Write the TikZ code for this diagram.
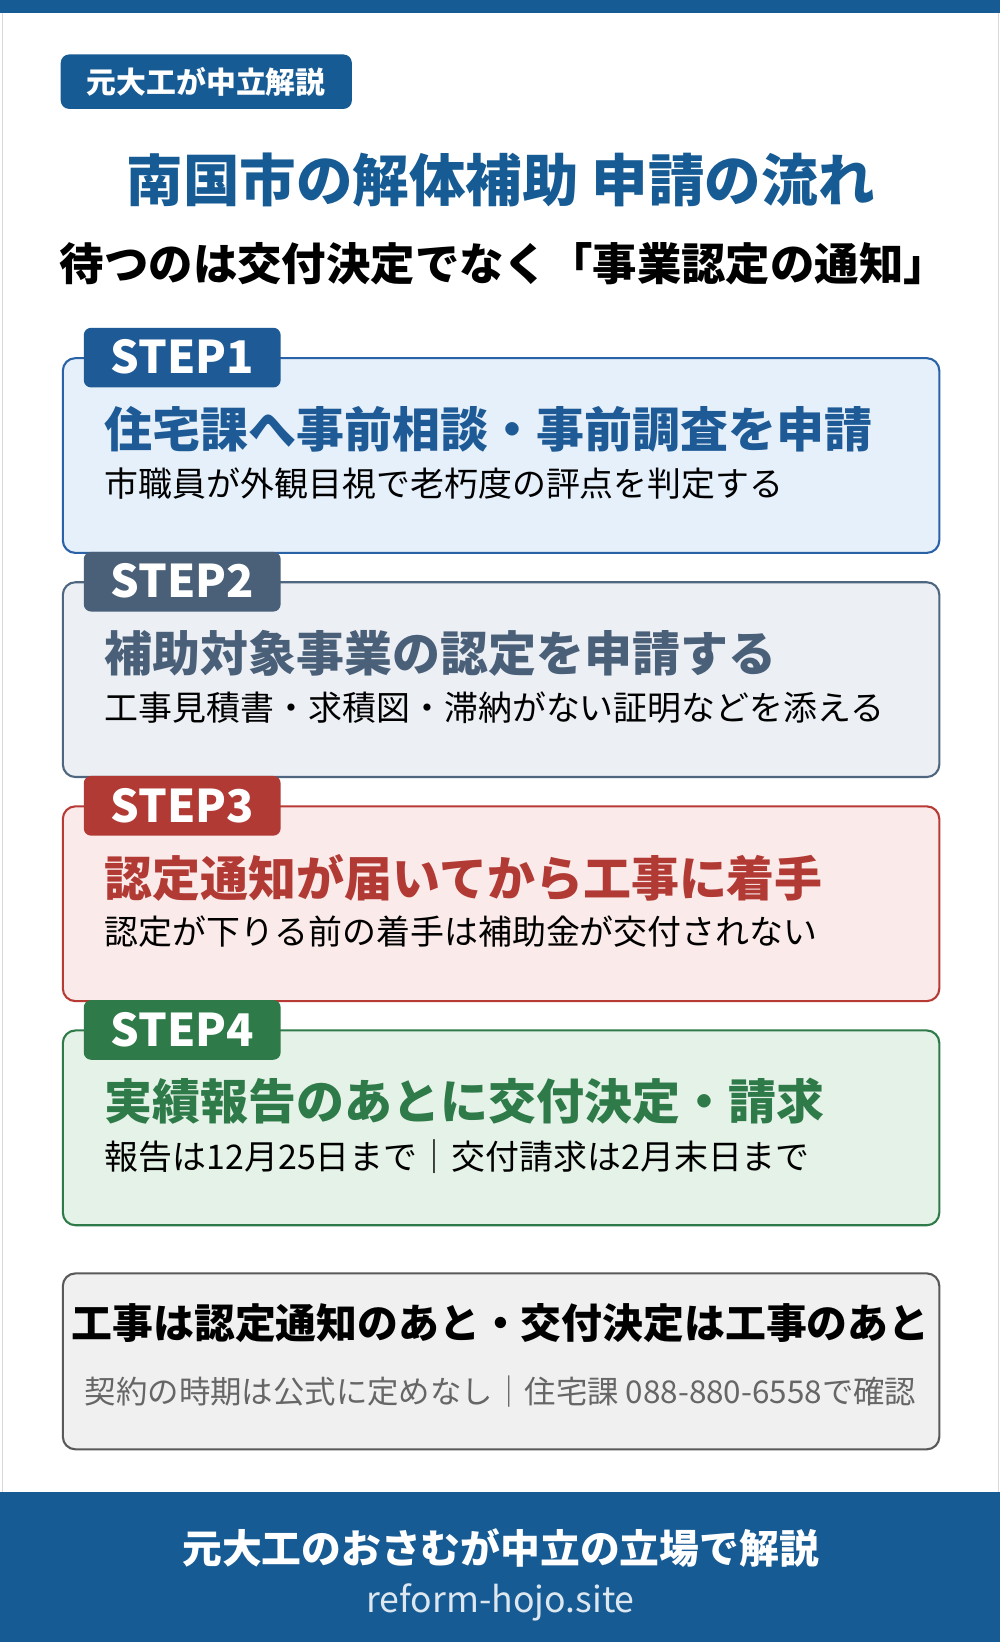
\documentclass[tikz,border=0pt]{standalone}
\usepackage{fontspec}
\setmainfont{Noto Sans CJK JP}
\usepackage{tikz}
\definecolor{navy}{HTML}{175B94}
\definecolor{sOneLine}{HTML}{2A62A8}\definecolor{sOneFill}{HTML}{E6F0FA}\definecolor{sOneTab}{HTML}{1E5A96}
\definecolor{sTwoLine}{HTML}{4F6680}\definecolor{sTwoFill}{HTML}{ECEFF4}\definecolor{sTwoTab}{HTML}{4A5F78}
\definecolor{sThrLine}{HTML}{B83A35}\definecolor{sThrFill}{HTML}{FBEAEA}\definecolor{sThrTab}{HTML}{B23A34}
\definecolor{sFouLine}{HTML}{2E7A48}\definecolor{sFouFill}{HTML}{E5F2E8}\definecolor{sFouTab}{HTML}{2E7A48}
\begin{document}
\begin{tikzpicture}[x=1pt,y=1pt,yscale=-1,xscale=1,
  box/.style={rounded corners=12pt,line width=2pt},
  tab/.style={rounded corners=7pt},
  tabtext/.style={anchor=center,inner sep=0pt,text=white,font=\fontsize{43}{46}\selectfont\bfseries},
  head/.style={anchor=west,inner sep=0pt,font=\fontsize{45.8}{50}\selectfont\bfseries},
  sub/.style={anchor=west,inner sep=0pt,font=\fontsize{32.4}{36}\selectfont}]
\useasboundingbox (0,0) rectangle (955,1568);
\fill[white] (0,0) rectangle (955,1568);
%Shape: top bar
\fill[navy] (0,0) rectangle (955,12);
\draw[gray!30] (2,12) -- (2,1425) (953,12) -- (953,1425);
%Shape: badge
\fill[navy,rounded corners=8pt] (58,52) rectangle (336,104);
\node (badge) at (197,78) [inner sep=0pt,text=white,font=\fontsize{28.5}{31}\selectfont\bfseries] {元大工が中立解説};
% Text Node
\node (title) at (478,172) [inner sep=0pt,text=navy,font=\fontsize{54}{58}\selectfont\bfseries] {南国市の解体補助 申請の流れ};
\node (subtitle) at (57,252) [anchor=west,inner sep=0pt,font=\fontsize{42.4}{46}\selectfont\bfseries] {待つのは交付決定でなく「事業認定の通知」};
%Steps
\foreach \n/\y/\c/\h/\s in {1/342/sOne/住宅課へ事前相談・事前調査を申請/市職員が外観目視で老朽度の評点を判定する,
  2/556/sTwo/補助対象事業の認定を申請する/工事見積書・求積図・滞納がない証明などを添える,
  3/770/sThr/認定通知が届いてから工事に着手/認定が下りる前の着手は補助金が交付されない,
  4/984/sFou/実績報告のあとに交付決定・請求/報告は12月25日まで｜交付請求は2月末日まで}{
  \draw[box,draw=\c Line,fill=\c Fill] (60,\y) rectangle (897,\y+186);
  \fill[tab,\c Tab] (80,\y-29) rectangle (268,\y+28);
  \node (tab\n) at (174,\y-1) [tabtext] {STEP\n};
  \node (head\n) at (100,\y+68) [head,text=\c Tab] {\h};
  \node (sub\n) at (100,\y+120) [sub] {\s};
}
%Shape: bottom note
\draw[box,draw=black!65,fill=black!6] (60,1216) rectangle (897,1384);
\node (note) at (478,1263) [inner sep=0pt,font=\fontsize{39}{43}\selectfont\bfseries] {工事は認定通知のあと・交付決定は工事のあと};
\node (notesub) at (478,1329) [inner sep=0pt,text=black!60,font=\fontsize{30}{33}\selectfont] {契約の時期は公式に定めなし｜住宅課 088-880-6558で確認};
%Shape: footer
\fill[navy] (0,1425) rectangle (955,1568);
\node (foot) at (478,1478) [inner sep=0pt,text=white,font=\fontsize{38}{42}\selectfont\bfseries] {元大工のおさむが中立の立場で解説};
\node (site) at (478,1530) [inner sep=0pt,text=white!85!navy,font=\fontsize{34}{37}\selectfont] {reform-hojo.site};
\end{tikzpicture}
\end{document}
